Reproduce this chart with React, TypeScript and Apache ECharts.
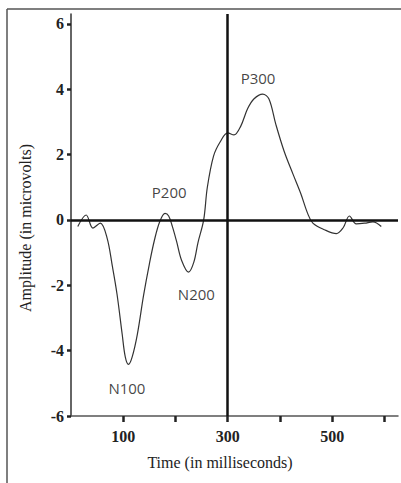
import React, { useEffect, useRef } from "react";
import * as echarts from "echarts";

const timeMs = [13, 29, 42, 56, 69, 79, 88, 98, 104, 110, 117, 127, 139, 150, 160, 170, 180, 187, 194, 202, 212, 225, 235, 243, 254, 261, 273, 286, 300, 312, 325, 338, 350, 367, 379, 392, 408, 425, 440, 453, 463, 485, 508, 521, 533, 546, 562, 578, 594];
const amplitude = [-0.2, 0.15, -0.25, -0.1, -0.55, -1.4, -2.26, -3.5, -4.2, -4.42, -4.2, -3.5, -2.3, -1.35, -0.6, -0.05, 0.2, 0.12, -0.2, -0.65, -1.25, -1.6, -1.3, -0.7, 0, 1.0, 1.96, 2.4, 2.66, 2.6, 2.87, 3.4, 3.7, 3.85, 3.7, 2.93, 2.1, 1.4, 0.8, 0.2, -0.1, -0.3, -0.42, -0.24, 0.12, -0.12, -0.1, -0.06, -0.2];

const componentNames = ["P300", "P200", "N200", "N100"];
const componentTime = [358, 188, 240, 107];
const componentAmp = [4.35, 0.86, -2.26, -5.14];

const xTicks = [100, 200, 300, 400, 500, 600];
const xLabels = [100, 300, 500];
const yTicks = [-6, -4, -2, 0, 2, 4, 6];

export default function App() {
  const ref = useRef<HTMLDivElement>(null);
  useEffect(() => {
    if (!ref.current) return;
    const chart = echarts.init(ref.current, null, { renderer: "svg" });
    chart.setOption({
      animation: false,
      backgroundColor: "#fff",
      grid: { left: 71, top: 14, width: 327, bottom: 67 },
      xAxis: {
        type: "value",
        min: 0,
        max: 626,
        splitLine: { show: false },
        axisLine: { show: true, onZero: false, lineStyle: { color: "#555", width: 1.5 } },
        axisTick: { show: true, customValues: xTicks, length: 6, lineStyle: { color: "#222", width: 2.5 } },
        axisLabel: {
          customValues: xLabels,
          margin: 12,
          fontFamily: "Liberation Serif",
          fontWeight: "bold",
          fontSize: 16,
          color: "#222",
        },
      },
      yAxis: {
        type: "value",
        min: -6,
        max: 6.3,
        splitLine: { show: false },
        axisLine: { show: true, onZero: false, lineStyle: { color: "#333", width: 1.5 } },
        axisTick: { show: true, customValues: yTicks, length: 4, lineStyle: { color: "#222", width: 2.5 } },
        axisLabel: {
          customValues: yTicks,
          margin: 7,
          fontFamily: "Liberation Serif",
          fontWeight: "bold",
          fontSize: 16,
          color: "#222",
        },
      },
      series: [
        {
          type: "line",
          data: timeMs.map((t, i) => [t, amplitude[i]]),
          smooth: 0.35,
          symbol: "none",
          lineStyle: { color: "#333", width: 1.2 },
          markLine: {
            silent: true,
            symbol: ["none", "none"],
            label: { show: false },
            lineStyle: { color: "#111", width: 2.5, type: "solid" },
            data: [{ xAxis: 300 }, { yAxis: 0 }],
          },
        },
        {
          type: "scatter",
          symbolSize: 0,
          data: componentNames.map((n, i) => ({ name: n, value: [componentTime[i], componentAmp[i]] })),
          label: {
            show: true,
            position: "inside",
            formatter: "{b}",
            fontFamily: "Open Sans",
            fontSize: 15,
            color: "#111",
          },
          silent: true,
        },
      ],
      graphic: [
        { type: "line", shape: { x1: 7, y1: 9, x2: 401, y2: 9 }, style: { stroke: "#555", lineWidth: 1.5 } },
        { type: "line", shape: { x1: 7, y1: 9, x2: 7, y2: 483 }, style: { stroke: "#555", lineWidth: 1.5 } },
        {
          type: "text",
          x: 220,
          y: 462,
          style: {
            text: "Time (in milliseconds)",
            font: "16px 'Liberation Serif'",
            fill: "#222",
            textAlign: "center",
            textVerticalAlign: "middle",
          },
        },
        {
          type: "text",
          x: 25,
          y: 228,
          rotation: Math.PI / 2,
          style: {
            text: "Amplitude (in microvolts)",
            font: "16px 'Liberation Serif'",
            fill: "#222",
            textAlign: "center",
            textVerticalAlign: "middle",
          },
        },
      ],
    });
    return () => chart.dispose();
  }, []);
  return <div ref={ref} style={{ position: "fixed", left: 0, top: 0, width: 401, height: 483 }} />;
}
